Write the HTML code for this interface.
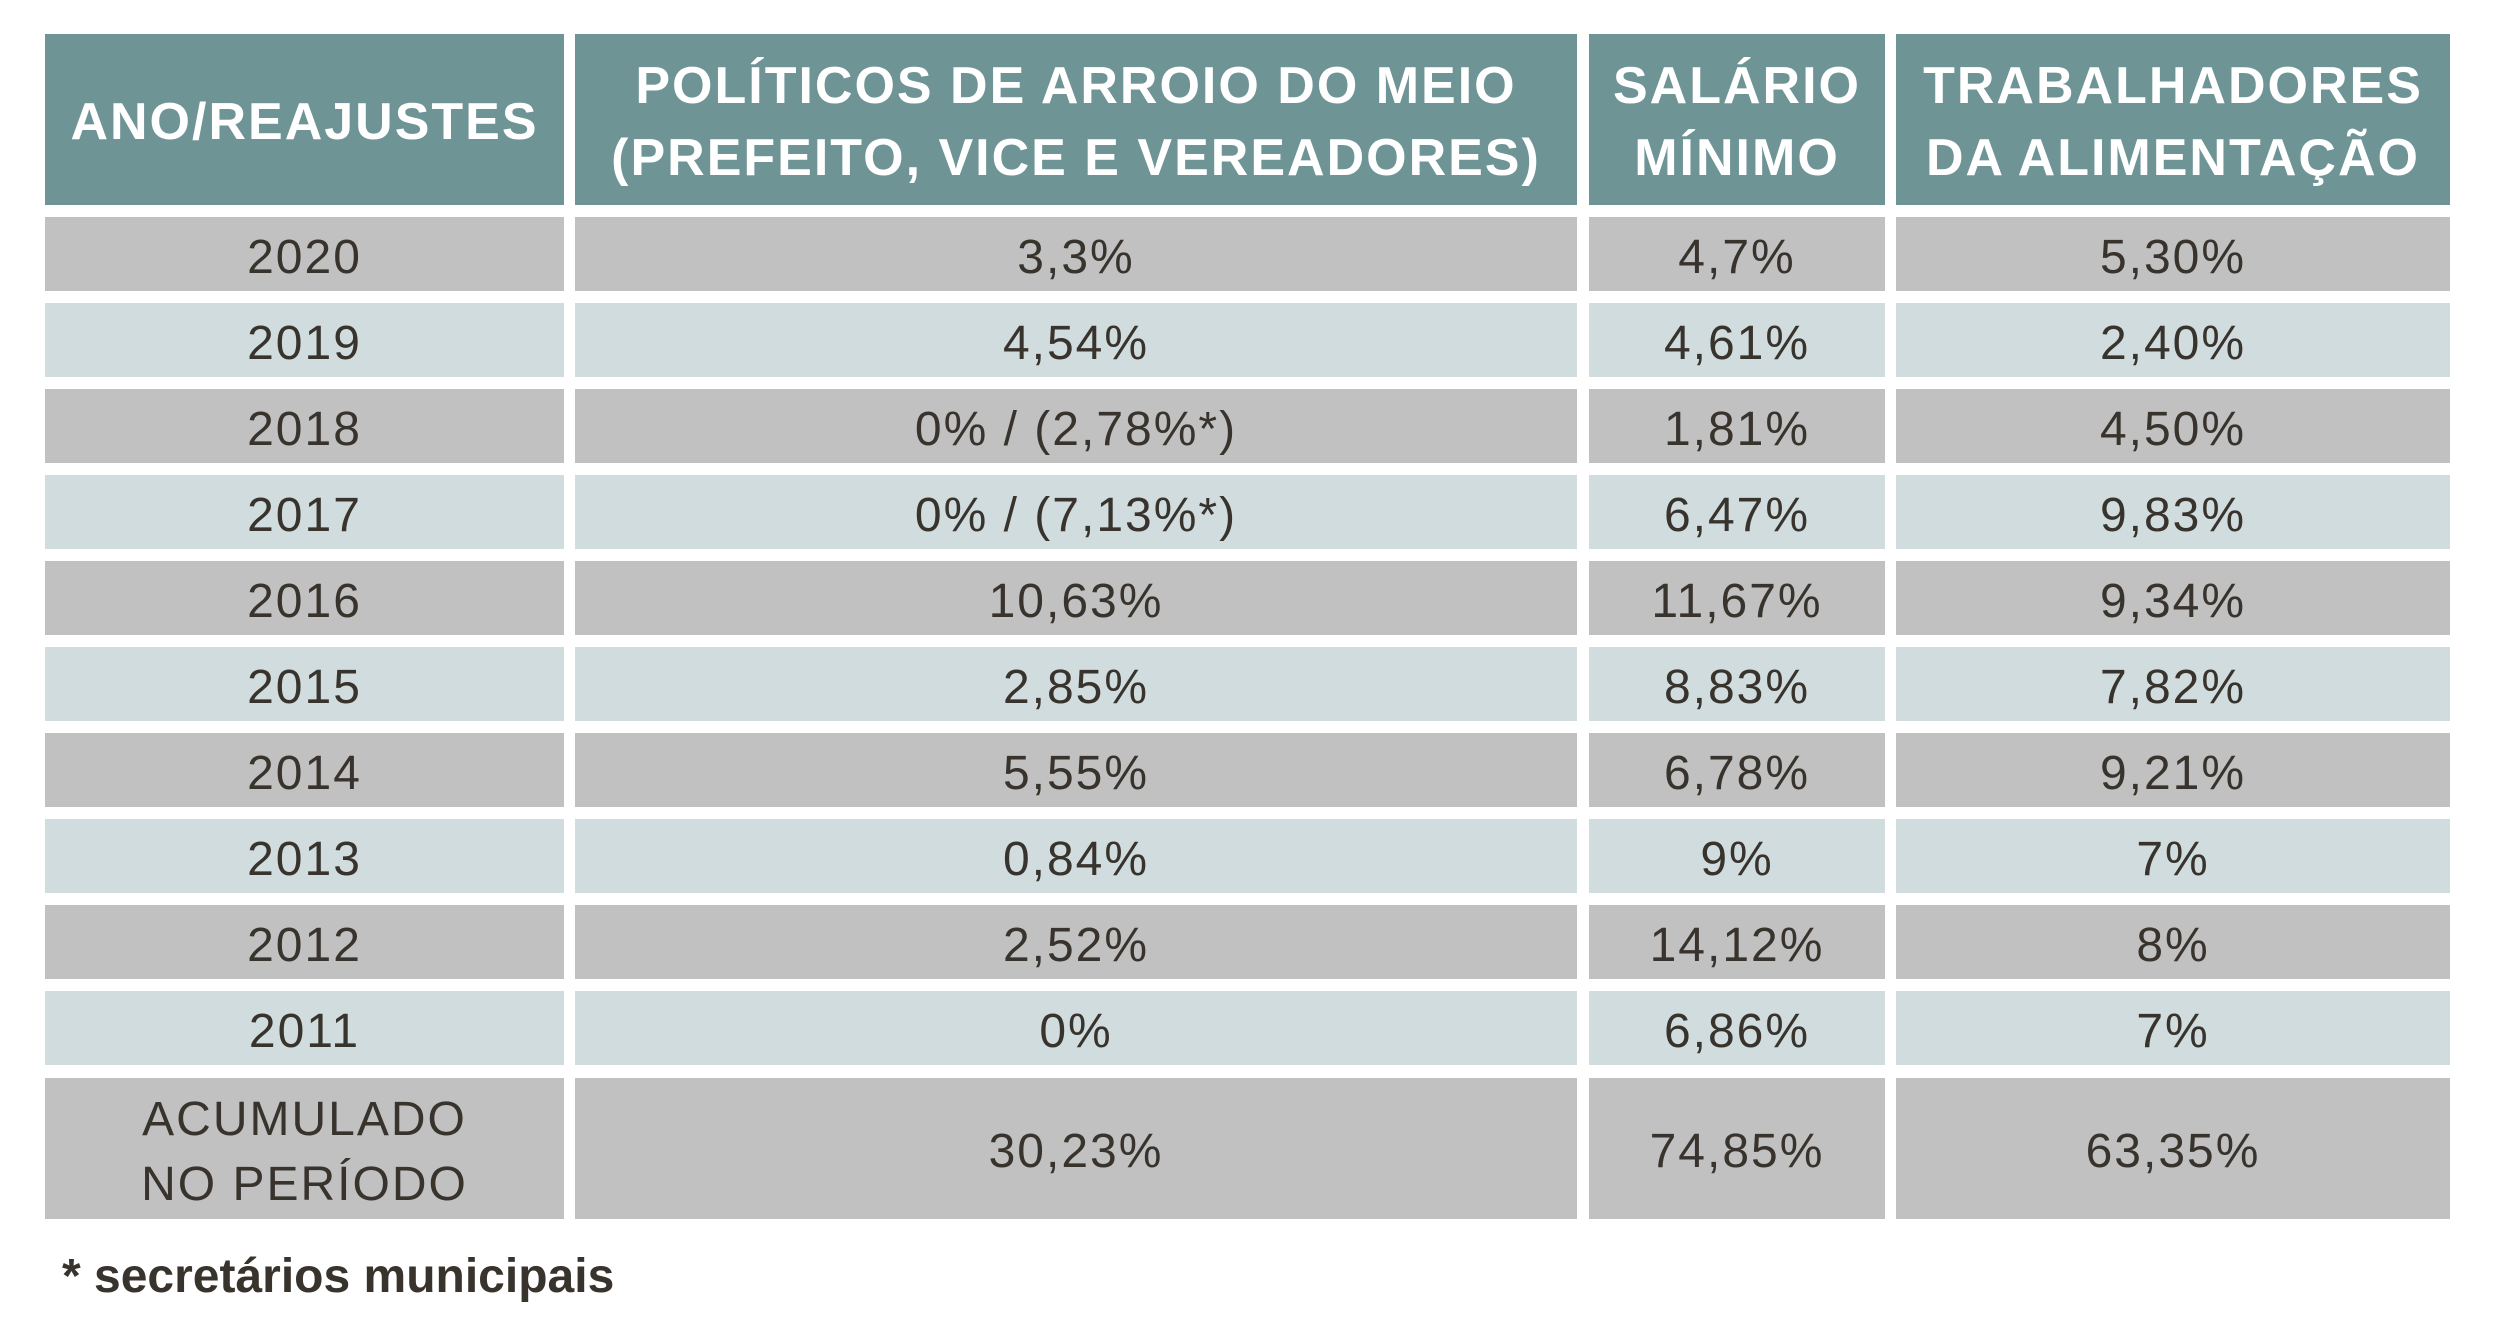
<!DOCTYPE html>
<html><head><meta charset="utf-8"><style>
body{margin:0;width:2497px;height:1338px;background:#fff;position:relative;overflow:hidden;font-family:"Liberation Sans",sans-serif}
.c{position:absolute;display:flex;align-items:center;justify-content:center;text-align:center;color:#38332d;font-size:48px;letter-spacing:2px;box-sizing:border-box;padding-top:6px}
.h{background:#6e9496;color:#fff;font-weight:bold;font-size:52px;line-height:72px;letter-spacing:2px;padding-top:4px}
.g{background:#c1c1c1}.l{background:#d0dcde}
</style></head><body>
<div class="c h" style="left:45px;top:34px;width:519px;height:171px">ANO/REAJUSTES</div>
<div class="c h" style="left:575px;top:34px;width:1002px;height:171px">POLÍTICOS DE ARROIO DO MEIO<br>(PREFEITO, VICE E VEREADORES)</div>
<div class="c h" style="left:1589px;top:34px;width:296px;height:171px">SALÁRIO<br>MÍNIMO</div>
<div class="c h" style="left:1896px;top:34px;width:554px;height:171px">TRABALHADORES<br>DA ALIMENTAÇÃO</div>
<div id="rows"></div>
<div class="c g" style="left:45px;top:1078px;width:519px;height:141px;line-height:65px">ACUMULADO<br>NO PERÍODO</div>
<div class="c g" style="left:575px;top:1078px;width:1002px;height:141px">30,23%</div>
<div class="c g" style="left:1589px;top:1078px;width:296px;height:141px">74,85%</div>
<div class="c g" style="left:1896px;top:1078px;width:554px;height:141px">63,35%</div>
<div style="position:absolute;left:62px;top:1249px;font-size:48px;font-weight:bold;color:#38332d">* secretários municipais</div>
<script>
var d=[["2020","3,3%","4,7%","5,30%"],["2019","4,54%","4,61%","2,40%"],["2018","0% / (2,78%*)","1,81%","4,50%"],["2017","0% / (7,13%*)","6,47%","9,83%"],["2016","10,63%","11,67%","9,34%"],["2015","2,85%","8,83%","7,82%"],["2014","5,55%","6,78%","9,21%"],["2013","0,84%","9%","7%"],["2012","2,52%","14,12%","8%"],["2011","0%","6,86%","7%"]];
var cols=[[45,519],[575,1002],[1589,296],[1896,554]],h="";
d.forEach(function(r,i){var t=217+86*i,cl=i%2?"l":"g";r.forEach(function(v,j){h+='<div class="c '+cl+'" style="left:'+cols[j][0]+'px;top:'+t+'px;width:'+cols[j][1]+'px;height:74px">'+v+'</div>';});});
document.getElementById("rows").innerHTML=h;
</script>
</body></html>
